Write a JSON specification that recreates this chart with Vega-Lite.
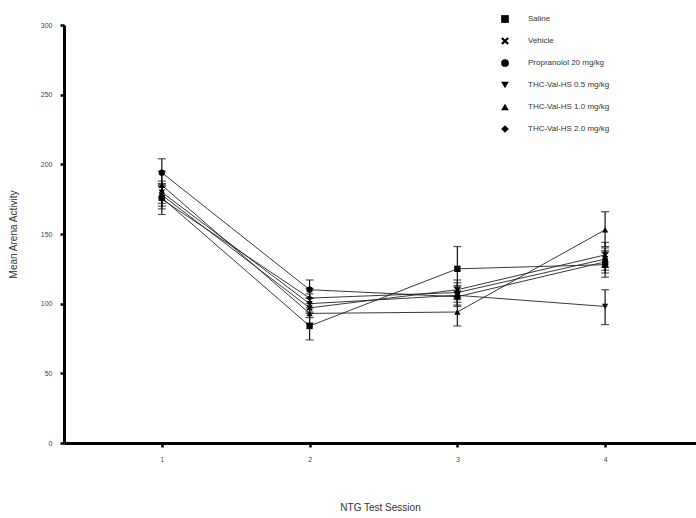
{
  "$schema": "https://vega.github.io/schema/vega-lite/v6.json",
  "autosize": "none",
  "width": 632,
  "height": 418,
  "padding": {"left": 64, "top": 25, "right": 0, "bottom": 75},
  "background": "white",
  "config": {
    "view": {"stroke": null},
    "font": "Liberation Sans",
    "axis": {"grid": false, "domainColor": "black", "domainWidth": 3, "tickColor": "black", "tickWidth": 2.5, "tickSize": 4, "labelFont": "Liberation Sans", "labelFontSize": 7, "labelColor": "#444", "titleFont": "Liberation Sans", "titleFontWeight": "normal", "titleColor": "#333", "titleFontSize": 10}
  },
  "data": {
    "values": [
      {"session": 1, "group": "Saline", "mean": 176, "lo": 168, "hi": 184},
      {"session": 2, "group": "Saline", "mean": 84, "lo": 74, "hi": 94},
      {"session": 3, "group": "Saline", "mean": 125, "lo": 109, "hi": 141},
      {"session": 4, "group": "Saline", "mean": 128, "lo": 119, "hi": 137},
      {"session": 1, "group": "Vehicle", "mean": 178, "lo": 170, "hi": 186},
      {"session": 2, "group": "Vehicle", "mean": 97, "lo": 90, "hi": 104},
      {"session": 3, "group": "Vehicle", "mean": 110, "lo": 103, "hi": 117},
      {"session": 4, "group": "Vehicle", "mean": 135, "lo": 126, "hi": 144},
      {"session": 1, "group": "Propranolol 20 mg/kg", "mean": 194, "lo": 185, "hi": 204},
      {"session": 2, "group": "Propranolol 20 mg/kg", "mean": 110, "lo": 104, "hi": 117},
      {"session": 3, "group": "Propranolol 20 mg/kg", "mean": 105, "lo": 98, "hi": 112},
      {"session": 4, "group": "Propranolol 20 mg/kg", "mean": 130, "lo": 122, "hi": 138},
      {"session": 1, "group": "THC-Val-HS 0.5 mg/kg", "mean": 180, "lo": 172, "hi": 188},
      {"session": 2, "group": "THC-Val-HS 0.5 mg/kg", "mean": 100, "lo": 93, "hi": 107},
      {"session": 3, "group": "THC-Val-HS 0.5 mg/kg", "mean": 106, "lo": 99, "hi": 113},
      {"session": 4, "group": "THC-Val-HS 0.5 mg/kg", "mean": 98, "lo": 85, "hi": 110},
      {"session": 1, "group": "THC-Val-HS 1.0 mg/kg", "mean": 185, "lo": 176, "hi": 195},
      {"session": 2, "group": "THC-Val-HS 1.0 mg/kg", "mean": 93, "lo": 86, "hi": 100},
      {"session": 3, "group": "THC-Val-HS 1.0 mg/kg", "mean": 94, "lo": 84, "hi": 104},
      {"session": 4, "group": "THC-Val-HS 1.0 mg/kg", "mean": 153, "lo": 141, "hi": 166},
      {"session": 1, "group": "THC-Val-HS 2.0 mg/kg", "mean": 175, "lo": 164, "hi": 186},
      {"session": 2, "group": "THC-Val-HS 2.0 mg/kg", "mean": 104, "lo": 97, "hi": 111},
      {"session": 3, "group": "THC-Val-HS 2.0 mg/kg", "mean": 108, "lo": 101, "hi": 115},
      {"session": 4, "group": "THC-Val-HS 2.0 mg/kg", "mean": 132, "lo": 124, "hi": 140}
    ]
  },
  "layer": [
    {
      "mark": {"type": "line", "color": "#222", "strokeWidth": 0.9},
      "encoding": {
        "x": {"field": "session", "type": "quantitative", "scale": {"domain": [0.338, 4.615], "nice": false, "zero": false},
              "axis": {"values": [1, 2, 3, 4], "format": "d", "title": "NTG Test Session", "titlePadding": 40, "labelPadding": 8}},
        "y": {"field": "mean", "type": "quantitative", "scale": {"domain": [0, 300], "nice": false},
              "axis": {"values": [0, 50, 100, 150, 200, 250, 300], "title": "Mean Arena Activity", "titlePadding": 22, "labelPadding": 8}},
        "detail": {"field": "group"}
      }
    },
    {
      "mark": {"type": "rule", "color": "#111", "strokeWidth": 1.2},
      "encoding": {
        "x": {"field": "session", "type": "quantitative"},
        "y": {"field": "lo", "type": "quantitative"},
        "y2": {"field": "hi"}
      }
    },
    {
      "mark": {"type": "tick", "orient": "horizontal", "color": "#111", "size": 8, "thickness": 1.2},
      "encoding": {
        "x": {"field": "session", "type": "quantitative"},
        "y": {"field": "lo", "type": "quantitative"}
      }
    },
    {
      "mark": {"type": "tick", "orient": "horizontal", "color": "#111", "size": 8, "thickness": 1.2},
      "encoding": {
        "x": {"field": "session", "type": "quantitative"},
        "y": {"field": "hi", "type": "quantitative"}
      }
    },
    {
      "mark": {"type": "point", "filled": true, "color": "black", "opacity": 1, "size": 40},
      "encoding": {
        "x": {"field": "session", "type": "quantitative"},
        "y": {"field": "mean", "type": "quantitative"},
        "shape": {
          "field": "group", "type": "nominal",
          "scale": {
            "domain": ["Saline", "Vehicle", "Propranolol 20 mg/kg", "THC-Val-HS 0.5 mg/kg", "THC-Val-HS 1.0 mg/kg", "THC-Val-HS 2.0 mg/kg"],
            "range": ["square", "M-1,-0.6L-0.6,-1L0,-0.4L0.6,-1L1,-0.6L0.4,0L1,0.6L0.6,1L0,0.4L-0.6,1L-1,0.6L-0.4,0Z", "circle", "triangle-down", "triangle-up", "diamond"]
          },
          "legend": {
            "title": null, "orient": "none", "legendX": 436, "legendY": -11,
            "symbolFillColor": "black", "symbolStrokeColor": "black", "symbolSize": 60, "symbolOpacity": 1,
            "labelFont": "Liberation Sans", "labelFontSize": 8, "labelColor": "#333", "labelOffset": 18,
            "rowPadding": 8
          }
        }
      }
    }
  ]
}
